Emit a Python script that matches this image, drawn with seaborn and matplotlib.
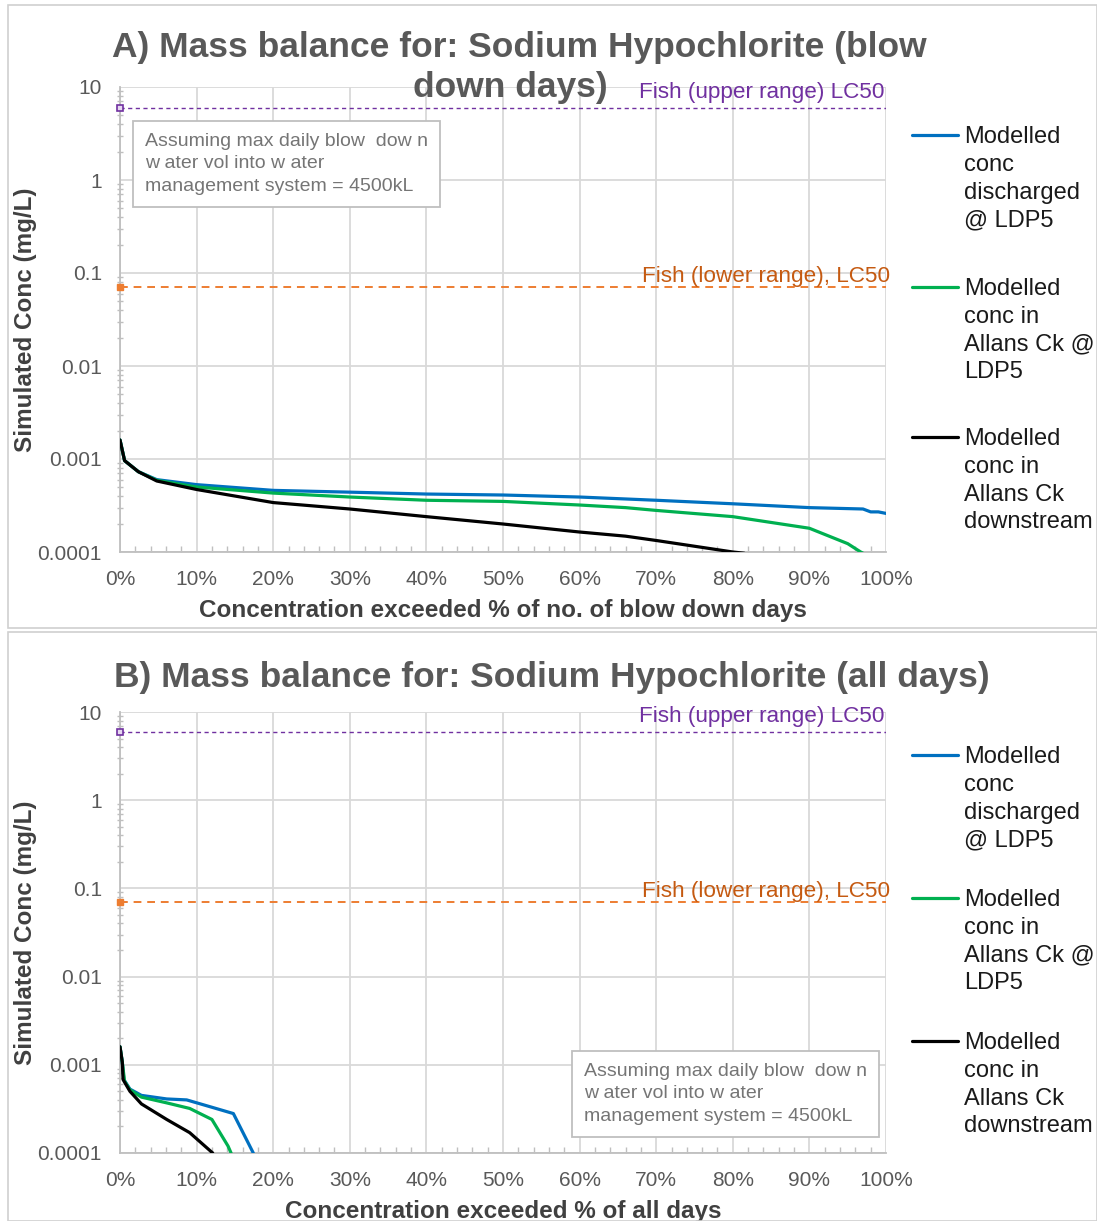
import matplotlib
matplotlib.use("Agg")
import matplotlib.pyplot as plt
import matplotlib.ticker as mticker
from matplotlib.patches import Rectangle
from matplotlib.lines import Line2D
import seaborn as sns
import pandas as pd

sns.set_theme(style="white")
plt.rcParams["font.family"] = ["Liberation Sans", "DejaVu Sans"]

# ---- Panel A: blow down days ----
a_blue_x = [0, 0.6, 2.4, 4.8, 10, 20, 30, 40, 50, 60, 70, 80, 90, 97, 98, 99, 100]
a_blue_y = [0.0016, 0.00096, 0.00073, 0.00060, 0.00053, 0.00046, 0.00044, 0.00042,
            0.00041, 0.00039, 0.00036, 0.00033, 0.00030, 0.00029, 0.00027, 0.00027, 0.00026]
a_green_x = [0, 0.6, 2.4, 4.8, 10, 20, 30, 40, 50, 60, 66, 70, 80, 90, 95, 96.7, 97.2]
a_green_y = [0.0016, 0.00096, 0.00073, 0.00059, 0.00050, 0.00043, 0.00039, 0.00036,
             0.00035, 0.00032, 0.00030, 0.00028, 0.00024, 0.00018, 0.000123, 0.0001, 0.000095]
a_black_x = [0, 0.6, 2.4, 4.8, 10, 20, 30, 40, 50, 60, 66, 70, 80, 81.5]
a_black_y = [0.0016, 0.00096, 0.00073, 0.00058, 0.00047, 0.00034, 0.00029, 0.00024,
             0.00020, 0.000164, 0.000148, 0.000133, 0.0001, 0.000097]

# ---- Panel B: all days ----
b_blue_x = [0, 0.3, 0.5, 1.3, 2.8, 6.1, 8.7, 12.0, 14.8, 17.4]
b_blue_y = [0.0016, 0.00107, 0.00068, 0.00053, 0.00045, 0.00041, 0.00040, 0.00033, 0.00028, 0.0001]
b_green_x = [0, 0.3, 0.6, 1.3, 2.8, 6.1, 9.1, 12.0, 14.1, 14.5]
b_green_y = [0.0016, 0.00107, 0.00065, 0.00052, 0.00043, 0.00037, 0.00032, 0.00024, 0.00012, 0.0001]
b_black_x = [0, 0.3, 0.4, 1.3, 2.8, 6.1, 9.1, 12.1]
b_black_y = [0.0016, 0.00107, 0.00068, 0.00050, 0.00036, 0.00024, 0.00017, 0.0001]

fish_upper = 6.0
fish_lower = 0.07

series_names = ["Modelled\nconc\ndischarged\n@ LDP5",
                "Modelled\nconc in\nAllans Ck @\nLDP5",
                "Modelled\nconc in\nAllans Ck\ndownstream"]
series_colors = ["#0070C0", "#00B050", "#000000"]

ytick_vals = [0.0001, 0.001, 0.01, 0.1, 1, 10]
ytick_labels = ["0.0001", "0.001", "0.01", "0.1", "1", "10"]
xtick_vals = list(range(0, 101, 10))
xtick_labels = [f"{v}%" for v in xtick_vals]

note = "Assuming max daily blow  dow n\nw ater vol into w ater\nmanagement system = 4500kL"

W, H = 1097, 1221
fig = plt.figure(figsize=(W / 100, H / 100), dpi=100)


def fx(px):
    return px / W


def fy(py):
    return 1 - py / H


grey_txt = "#595959"
grid_c = "#d9d9d9"

# panel frames
for top, bot in [(5, 628), (632, 1221)]:
    fig.patches.append(Rectangle((fx(8), fy(bot)), fx(1097) - fx(8), fy(top) - fy(bot),
                                 transform=fig.transFigure, fill=False,
                                 edgecolor="#d0d0d0", linewidth=1.2))


def make_panel(top_px, bot_px, data, xlabel, note_xy, legend_ys):
    ax = fig.add_axes([fx(120), fy(bot_px), fx(886) - fx(120), fy(top_px) - fy(bot_px)])
    for (xs, ys), name, col in zip(data, series_names, series_colors):
        df = pd.DataFrame({"x": xs, "y": ys})
        sns.lineplot(data=df, x="x", y="y", ax=ax, color=col, linewidth=2.3,
                     sort=False, estimator=None, legend=False, zorder=4)
    ax.axhline(fish_upper, color="#7030A0", linestyle=(0, (3, 2.5)), linewidth=1.0, zorder=3)
    ax.axhline(fish_lower, color="#ED7D31", linestyle=(0, (4, 3)), linewidth=1.4, zorder=3)
    ax.plot([0], [fish_upper], marker="s", markersize=5, markerfacecolor="#E6D8F0",
            markeredgecolor="#7030A0", markeredgewidth=1.2, clip_on=False, zorder=5)
    ax.plot([0], [fish_lower], marker="s", markersize=5, color="#ED7D31", clip_on=False, zorder=5)
    ax.set_yscale("log")
    ax.set_ylim(0.0001, 10)
    ax.set_xlim(0, 100)
    ax.set_yticks(ytick_vals)
    ax.set_yticklabels(ytick_labels)
    ax.yaxis.set_minor_locator(mticker.LogLocator(base=10, subs=range(2, 10), numticks=20))
    ax.yaxis.set_minor_formatter(mticker.NullFormatter())
    ax.set_xticks(xtick_vals)
    ax.set_xticklabels(xtick_labels)
    ax.xaxis.set_minor_locator(mticker.MultipleLocator(2))
    ax.grid(True, which="major", color=grid_c, linewidth=1.3)
    ax.tick_params(axis="both", which="major", labelsize=15, labelcolor=grey_txt,
                   color="#bfbfbf", length=5, width=1)
    ax.tick_params(axis="x", which="major", direction="out", pad=8)
    ax.tick_params(axis="x", which="minor", direction="in", length=4, color="#bfbfbf", bottom=True)
    ax.tick_params(axis="y", which="minor", direction="inout", length=4, color="#bfbfbf", left=True)
    ax.tick_params(axis="y", which="major", direction="inout", length=6, pad=10)
    for s in ["top", "right"]:
        ax.spines[s].set_visible(False)
    for s in ["left", "bottom"]:
        ax.spines[s].set_color("#bfbfbf")
        ax.spines[s].set_linewidth(1.3)
    ax.set_xlabel(xlabel, fontsize=17.5, fontweight="bold", color="#404040", labelpad=7)
    ax.set_ylabel("Simulated Conc (mg/L)", fontsize=17.5, fontweight="bold", color="#404040")
    ax.yaxis.set_label_coords(fx(37), 0.5 * (fy(top_px) + fy(bot_px)), transform=fig.transFigure)
    ax.text(99.8, fish_upper * 1.28, "Fish (upper range) LC50", color="#7030A0",
            fontsize=16.2, ha="right", va="baseline")
    ax.text(100.6, fish_lower * 1.13, "Fish (lower range), LC50", color="#C55A11",
            fontsize=16.2, ha="right", va="baseline")
    ax.text(note_xy[0], note_xy[1], note, transform=fig.transFigure, fontsize=14.0,
            color="#757575", ha="left", va="top", linespacing=1.42,
            bbox=dict(boxstyle="square,pad=0.6", facecolor="white",
                      edgecolor="#bfbfbf", linewidth=1.3), zorder=6)
    for y_px, name, col in zip(legend_ys, series_names, series_colors):
        fig.lines.append(Line2D([fx(912), fx(958)], [fy(y_px), fy(y_px)],
                                transform=fig.transFigure, color=col, linewidth=2.3))
        fig.text(fx(964), fy(y_px - 9), name, fontsize=17, color="#1a1a1a",
                 ha="left", va="top", linespacing=1.34)
    return ax


make_panel(87, 552, [(a_blue_x, a_blue_y), (a_green_x, a_green_y), (a_black_x, a_black_y)],
           "Concentration exceeded % of no. of blow down days",
           (fx(145), fy(133)), [135, 287, 437])
make_panel(712, 1153, [(b_blue_x, b_blue_y), (b_green_x, b_green_y), (b_black_x, b_black_y)],
           "Concentration exceeded % of all days",
           (fx(584), fy(1063)), [755, 898, 1041])

fig.text(fx(519), fy(48), "A) Mass balance for: Sodium Hypochlorite (blow",
         fontsize=25.5, fontweight="bold", color=grey_txt, ha="center", va="center")
fig.text(fx(510), fy(88), "down days)",
         fontsize=25.5, fontweight="bold", color=grey_txt, ha="center", va="center")
fig.text(fx(552), fy(677), "B) Mass balance for: Sodium Hypochlorite (all days)",
         fontsize=25.5, fontweight="bold", color=grey_txt, ha="center", va="center")

fig.savefig("out.png", dpi=100, facecolor="white")
